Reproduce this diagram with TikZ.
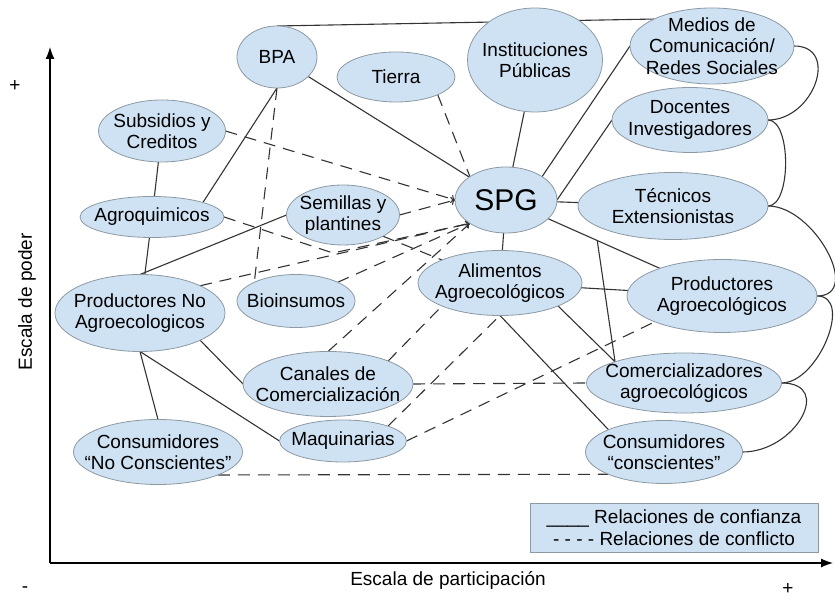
\documentclass[tikz,border=0pt]{standalone}
\usepackage{fontspec}
\setmainfont{Liberation Sans}
\usetikzlibrary{shapes.geometric, backgrounds, arrows.meta}
\definecolor{bubble}{HTML}{CFE2F3}
\definecolor{rim}{HTML}{8C99A3}
\definecolor{ink}{HTML}{333333}

\begin{document}
\begin{tikzpicture}[x=1bp, y=1bp,
    font=\fontsize{19bp}{21.5bp}\selectfont,
    actor/.style={ellipse, draw=rim, fill=bubble, line width=0.8bp, inner sep=-150bp, outer sep=0pt, align=center},
    sz/.style 2 args={minimum width=#1bp, minimum height=#2bp},
    trust/.style={draw=ink, line width=1.1bp},
    conflict/.style={draw=ink, line width=1.1bp, dash pattern=on 12bp off 8bp}]
    \useasboundingbox (0,0) rectangle (835,599);

    % ejes
    \coordinate (o) at (50,36);
    \draw[line width=1.2bp, -{Latex[length=12bp,width=9bp]}] (o) -- (50,552);
    \draw[line width=1.2bp, -{Latex[length=12bp,width=9bp]}] (o) -- (833,36);
    \node[rotate=90] (ylab) at (27,297) {Escala de poder};
    \node (xlab) at (448,19) {Escala de participación};
    \node[inner sep=0pt] (ymas) at (15,513) {+};
    \node[inner sep=0pt] (menos) at (25,9) {-};
    \node[inner sep=0pt] (xmas) at (788,10) {+};

    % actores
    \node[actor, sz={80}{62}] (bpa) at (277,542) {BPA};
    \node[actor, sz={118}{50}] (tierra) at (396,522) {Tierra};
    \node[actor, sz={135}{104}] (inst) at (535,539) {Instituciones\\Públicas};
    \node[actor, sz={164}{76}] (medios) at (712,553) {Medios de\\Comunicación/\\Redes Sociales};
    \node[actor, sz={156}{65}] (docentes) at (690,479) {Docentes\\Investigadores};
    \node[actor, sz={190}{67}] (tecnicos) at (673,393) {Técnicos\\Extensionistas};
    \node[actor, sz={102}{66}, font=\fontsize{30bp}{32bp}\selectfont] (spg) at (506,399) {SPG};
    \node[actor, sz={190}{73}] (prodagro) at (722,303) {Productores\\Agroecológicos};
    \node[actor, sz={164}{65}] (alimentos) at (500,316) {Alimentos\\Agroecológicos};
    \node[actor, sz={195}{60}] (comerc) at (684,216) {Comercializadores\\agroecológicos};
    \node[actor, sz={157}{63}] (consc) at (664,147) {Consumidores\\“conscientes”};
    \node[actor, sz={113}{60}] (semillas) at (343,384) {Semillas y\\plantines};
    \node[actor, sz={127}{62}] (subsidios) at (162,468) {Subsidios y\\Creditos};
    \node[actor, sz={144}{41}] (agroq) at (152,382) {Agroquimicos};
    \node[actor, sz={170}{77}] (prodno) at (140,286) {Productores No\\Agroecologicos};
    \node[actor, sz={118}{53}] (bioins) at (296,298) {Bioinsumos};
    \node[actor, sz={170}{65}] (canales) at (328,215) {Canales de\\Comercialización};
    \node[actor, sz={127}{42}] (maquin) at (343,158) {Maquinarias};
    \node[actor, sz={169}{65}] (consno) at (158,147) {Consumidores\\“No Conscientes”};

    % leyenda
    \node[draw=rim, fill=bubble, line width=0.8bp, minimum width=288bp, minimum height=49bp,
          inner sep=0pt, align=center] (legend) at (674,71.5)
          {\_\_\_\_ Relaciones de confianza\\- - - - Relaciones de conflicto};

    \begin{pgfonlayer}{background}
      % relaciones de confianza
      \draw[trust] (bpa.north) -- (medios.155);
      \draw[trust] (bpa) -- (spg);
      \draw[trust] (bpa.south) -- (agroq.north east);
      \draw[trust] (subsidios) -- (agroq);
      \draw[trust] (agroq) -- (prodno);
      \draw[trust] (prodno.north) -- (semillas.west);
      \draw[trust] (prodno.south east) -- (canales.west);
      \draw[trust] (prodno.south) -- (maquin.west);
      \draw[trust] (prodno.south) -- (consno.north);
      \draw[trust] (inst) -- (spg);
      \draw[trust] (spg.north east) -- (medios.west);
      \draw[trust] (spg.east) -- (docentes.west);
      \draw[trust] (spg) -- (tecnicos);
      \draw[trust] (spg) -- coordinate[pos=.44] (tp) (prodagro);
      \draw[trust] (tp) -- (comerc.north west);
      \draw[trust] (spg) -- (alimentos);
      \draw[trust] (alimentos) -- (prodagro);
      \draw[trust] (alimentos.south east) -- (comerc.north west);
      \draw[trust] (alimentos.south) -- (consc.north west);
      \draw[trust] (medios.east) to[out=0, in=0, looseness=1.5] (docentes.east);
      \draw[trust] (docentes.east) to[out=0, in=0, looseness=0.7] (tecnicos.east);
      \draw[trust] (tecnicos.east) to[out=0, in=0, looseness=1.15] (prodagro.east);
      \draw[trust] (prodagro.east) to[out=0, in=0, looseness=1.0] (comerc.east);
      \draw[trust] (comerc.east) to[out=0, in=0, looseness=1.7] (consc.east);

      % relaciones de conflicto
      \coordinate (kink) at (333,346);
      \draw[conflict] (tierra.south east) -- (spg.north west);
      \draw[conflict, ->] (subsidios.east) -- (spg.west);
      \draw[conflict, ->] (semillas.east) -- (spg.west);
      \draw[conflict, ->] (agroq.east) -- (kink) -- (spg.south west);
      \draw[conflict, ->] (prodno.north east) -- (spg.south west);
      \draw[conflict, ->] (bioins.north east) -- (spg.south west);
      \draw[conflict] (semillas.south east) -- (alimentos.north west);
      \draw[conflict] (bpa.south) -- (bioins.north west);
      \draw[conflict] (canales.north) -- (spg.south west);
      \draw[conflict] (canales.north east) -- (alimentos.south west);
      \draw[conflict] (canales.east) -- (comerc.west);
      \draw[conflict] (maquin.north east) -- (alimentos.south);
      \draw[conflict] (maquin.east) -- (prodagro.south west);
      \draw[conflict] (consno.south east) -- (consc.south west);
    \end{pgfonlayer}
\end{tikzpicture}
\end{document}
